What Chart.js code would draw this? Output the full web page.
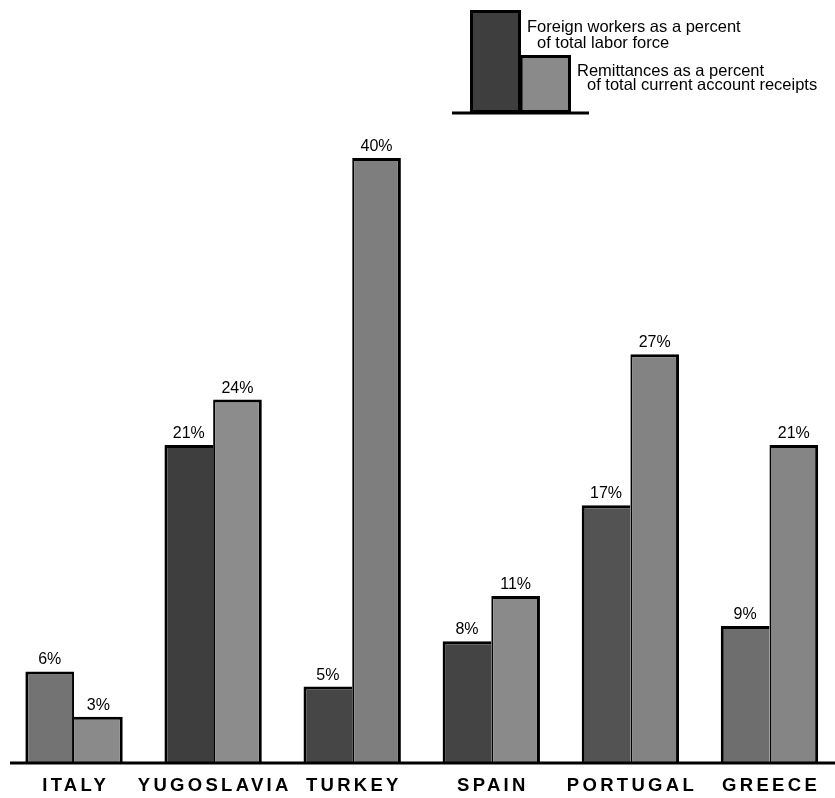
<html>
<head>
  <script src="https://cdn.jsdelivr.net/npm/chart.js@4.4.1/dist/chart.umd.min.js"></script>
  <style>
    body{margin:0;overflow:hidden;background:#fff;}
    #wrap{width:839px;height:798px;position:relative;}
  </style>
</head>
<body>
  <div id="wrap"><canvas id="myChart"></canvas></div>
  <script>
    let countries=['ITALY','YUGOSLAVIA','TURKEY','SPAIN','PORTUGAL','GREECE'];
    let workers=[6,21,5,8,17,9];
    let remittances=[3,24,40,11,27,21];
    let workersLabel=['Foreign workers as a percent','of total labor force'];
    let remitLabel=['Remittances as a percent','of total current account receipts'];

    let workerColors=['#737373','#3e3e3e','#464646','#444444','#535353','#6e6e6e'];
    let remitColors=['#8a8a8a','#8c8c8c','#7e7e7e','#8a8a8a','#838383','#858585'];
    let font='"Liberation Sans", Arial, sans-serif';

    function edges(own,other,inner){
      // black outline on top and outer side, thin line on the inner side only when taller
      let w={top:3,bottom:0,left:3,right:3};
      w[inner]=own>other?2:0;
      return w;
    }

    let extras={
      id:'extras',
      afterDraw(chart){
        let ctx=chart.ctx;
        let area=chart.chartArea;
        let x=chart.scales.x;
        ctx.save();
        // baseline
        ctx.strokeStyle='#000';
        ctx.lineWidth=3;
        ctx.beginPath();
        ctx.moveTo(10,area.bottom+1);
        ctx.lineTo(835,area.bottom+1);
        ctx.stroke();
        // value labels
        ctx.fillStyle='#000';
        ctx.font='16px '+font;
        ctx.textAlign='center';
        ctx.textBaseline='alphabetic';
        chart.data.datasets.forEach((ds,i)=>{
          chart.getDatasetMeta(i).data.forEach((bar,j)=>{
            ctx.fillText(ds.data[j]+'%',bar.x,bar.y-7);
          });
        });
        // category labels
        ctx.font='bold 18.5px '+font;
        ctx.letterSpacing='3.3px';
        ctx.textBaseline='middle';
        countries.forEach((c,i)=>{
          ctx.fillText(c,x.getPixelForValue(i)+1.6,785.5);
        });
        ctx.letterSpacing='0px';
        // legend
        ctx.fillStyle='#3e3e3e';
        ctx.fillRect(470,10,51,101);
        ctx.fillStyle='#8a8a8a';
        ctx.fillRect(521,55,50,56);
        ctx.strokeStyle='#000';
        ctx.lineWidth=3;
        ctx.strokeRect(471.5,11.5,48,100);
        ctx.strokeRect(521,56.5,48.5,55);
        ctx.beginPath();
        ctx.moveTo(452,113);
        ctx.lineTo(589,113);
        ctx.stroke();
        ctx.fillStyle='#000';
        ctx.font='16.5px '+font;
        ctx.textAlign='left';
        ctx.textBaseline='alphabetic';
        ctx.fillText(workersLabel[0],527,32);
        ctx.fillText(workersLabel[1],537,48);
        ctx.fillText(remitLabel[0],577,76);
        ctx.fillText(remitLabel[1],587,90);
        ctx.restore();
      }
    };

    var ctx=document.getElementById('myChart').getContext('2d');
    var myChart=new Chart(ctx,{
      type:'bar',
      data:{
        labels:countries,
        datasets:[{
          label:workersLabel.join(' '),
          data:workers,
          backgroundColor:workerColors,
          borderColor:'#000',
          borderSkipped:false,
          borderWidth:c=>edges(workers[c.dataIndex],remittances[c.dataIndex],'right')
        },{
          label:remitLabel.join(' '),
          data:remittances,
          backgroundColor:remitColors,
          borderColor:'#000',
          borderSkipped:false,
          borderWidth:c=>edges(remittances[c.dataIndex],workers[c.dataIndex],'left')
        }]
      },
      options:{
        responsive:true,
        maintainAspectRatio:false,
        animation:false,
        layout:{padding:{left:4.5,right:0,top:158,bottom:36}},
        categoryPercentage:0.7,
        barPercentage:1.0,
        scales:{
          x:{display:false},
          y:{display:false,min:0,max:40}
        },
        plugins:{legend:{display:false},tooltip:{enabled:false}}
      },
      plugins:[extras]
    });
  </script>
</body>
</html>
